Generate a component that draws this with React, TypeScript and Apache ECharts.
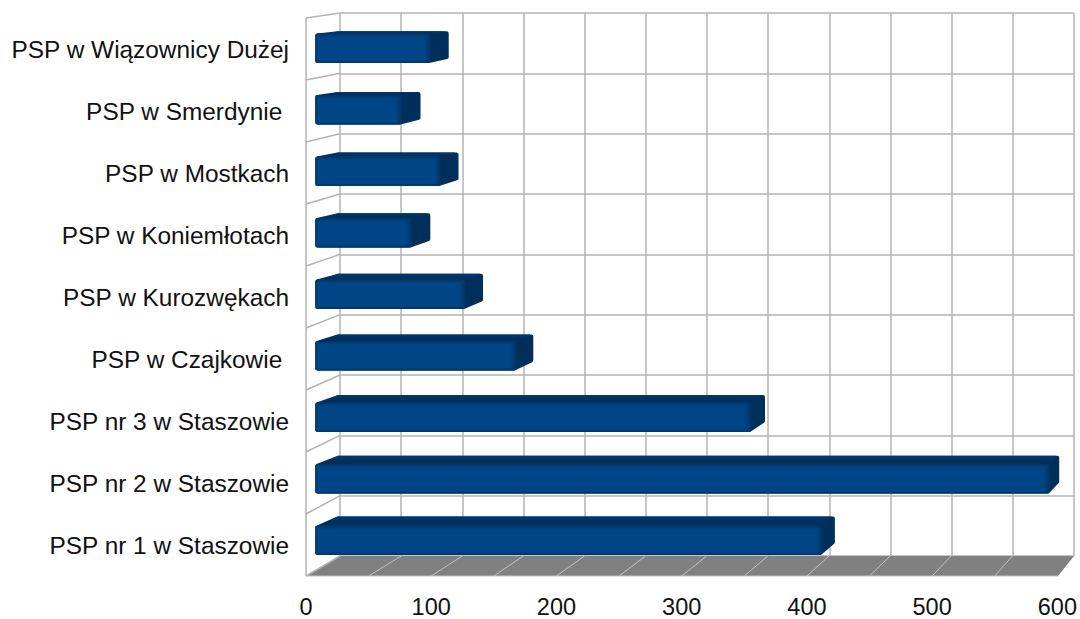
import React, { useEffect, useRef } from "react";
import * as echarts from "echarts";

const categories = [
  "PSP w Wiązownicy Dużej",
  "PSP w Smerdynie\u00a0",
  "PSP w Mostkach",
  "PSP w Koniemłotach",
  "PSP w Kurozwękach",
  "PSP w Czajkowie\u00a0",
  "PSP nr 3 w Staszowie",
  "PSP nr 2 w Staszowie",
  "PSP nr 1 w Staszowie",
];
const values = [92, 69, 100, 77, 120, 161, 350, 590, 407];
const floorTicks = [0, 50, 100, 150, 200, 250, 300, 350, 400, 450, 500, 550, 600];
const wallRows = [0, 1, 2, 3, 4, 5, 6, 7, 8, 9];

const FRONT = { left: 306, top: 18, width: 752, height: 558 };
const BACK = { left: 340, top: 13, width: 734, height: 543 };
const LABELS = { left: 306, top: 18.8, width: 752, height: 558 };
const GRID_LINE = "#b3b3b3";
const FONT = "Liberation Sans";

const toBackX = (x: number) => BACK.left + ((x - FRONT.left) / FRONT.width) * BACK.width;
const toBackY = (y: number) => BACK.top + ((y - FRONT.top) / FRONT.height) * BACK.height;
const lerp = (a: number, b: number, t: number) => a + (b - a) * t;

const renderFloor = (_: any, api: any) => {
  const v = api.value(0);
  const p = api.coord([v, 0]);
  const fx = p[0];
  const fy = FRONT.top + FRONT.height;
  const children: any[] = [];
  if (v === 0) {
    children.push({
      type: "polygon",
      shape: {
        points: [
          [FRONT.left, fy],
          [BACK.left, BACK.top + BACK.height],
          [BACK.left + BACK.width, BACK.top + BACK.height],
          [FRONT.left + FRONT.width, fy],
        ],
      },
      style: { fill: "#808080" },
    });
    children.push({
      type: "line",
      shape: { x1: FRONT.left, y1: fy, x2: FRONT.left + FRONT.width, y2: fy },
      style: { stroke: "#c4c4c4", lineWidth: 1 },
    });
    children.push({
      type: "line",
      shape: { x1: FRONT.left, y1: FRONT.top, x2: FRONT.left, y2: fy },
      style: { stroke: GRID_LINE, lineWidth: 1.5 },
    });
  }
  children.push({
    type: "line",
    shape: { x1: fx, y1: fy, x2: toBackX(fx), y2: BACK.top + BACK.height },
    style: { stroke: v === 0 || v === 600 ? "rgba(0,0,0,0)" : "#c4c4c4", lineWidth: 1 },
  });
  return { type: "group", children };
};

const renderWallRow = (_: any, api: any) => {
  const r = api.value(0);
  const y = FRONT.top + (r / categories.length) * FRONT.height;
  return {
    type: "line",
    shape: { x1: FRONT.left, y1: y, x2: BACK.left, y2: toBackY(y) },
    style: { stroke: GRID_LINE, lineWidth: 1.5 },
  };
};

const renderBar = (_: any, api: any) => {
  const v = api.value(0);
  const i = api.value(1);
  const p0 = api.coord([0, i]);
  const p1 = api.coord([v, i]);
  const band = api.size([0, 1])[1];
  const DXF = 0.3;
  const DXB = 0.88;
  const DYF = 0.1;
  const DYB = 0.62;
  const cyF = lerp(p1[1], toBackY(p1[1]), DYF);
  const cyB = lerp(p1[1], toBackY(p1[1]), DYB);
  const hF = band * 0.24;
  const hB = band * 0.226;
  const xF0 = lerp(p0[0], toBackX(p0[0]), DXF) - 1;
  const xF1 = lerp(p1[0], toBackX(p1[0]), DXF);
  const xB0 = lerp(p0[0], toBackX(p0[0]), DXB) + 2;
  const xB1 = lerp(p1[0], toBackX(p1[0]), DXB);
  const w = xF1 - xF0;
  const pad = 2;
  const edge = 1 - 6 / w;
  return {
    type: "group",
    children: [
      {
        type: "polygon",
        shape: {
          points: [
            [xF0 + pad, cyF - hF + pad],
            [xB0, cyB - hB + pad],
            [xB1 - pad, cyB - hB + pad],
            [xB1 - pad, cyB + hB - pad],
            [xF1 - pad, cyF + hF - pad],
            [xF0 + pad, cyF + hF - pad],
          ],
        },
        style: { fill: "#002f5c", stroke: "#002f5c", lineWidth: pad * 2, lineJoin: "round" },
      },
      {
        type: "polygon",
        shape: {
          points: [
            [xF0 + pad, cyF - hF + 2],
            [xB0, cyB - hB],
            [xB1 - pad - 1, cyB - hB],
            [xF1, cyF - hF + 2],
          ],
        },
        style: {
          fill: new echarts.graphic.LinearGradient(0, 0, 0, 1, [
            { offset: 0, color: "#003a70" },
            { offset: 0.5, color: "#002f5c" },
            { offset: 1, color: "#00305e" },
          ]),
        },
      },
      {
        type: "rect",
        shape: { x: xF0, y: cyF - hF, width: w, height: hF * 2, r: 3 },
        style: {
          fill: new echarts.graphic.LinearGradient(0, 0, 1, 0, [
            { offset: 0, color: "#003a72" },
            { offset: 3 / w, color: "#004586" },
            { offset: edge, color: "#004586" },
            { offset: 1, color: "#003263" },
          ]),
        },
      },
      {
        type: "rect",
        shape: { x: xF0 + 2, y: cyF - hF, width: w - 4, height: 5 },
        style: {
          fill: new echarts.graphic.LinearGradient(0, 0, 0, 1, [
            { offset: 0, color: "rgba(0,47,92,0.9)" },
            { offset: 1, color: "rgba(0,69,134,0)" },
          ]),
        },
      },
      {
        type: "rect",
        shape: { x: xF0 + 2, y: cyF + hF - 3, width: w - 4, height: 3 },
        style: {
          fill: new echarts.graphic.LinearGradient(0, 0, 0, 1, [
            { offset: 0, color: "rgba(0,47,92,0)" },
            { offset: 1, color: "rgba(0,47,92,0.8)" },
          ]),
        },
      },
    ],
  };
};

export default function App() {
  const ref = useRef<HTMLDivElement>(null);
  useEffect(() => {
    const chart = echarts.init(ref.current!, undefined, { renderer: "svg" });
    chart.setOption({
      animation: false,
      backgroundColor: "#ffffff",
      textStyle: { fontFamily: FONT },
      grid: [
        { ...FRONT, containLabel: false },
        { ...BACK, containLabel: false },
        { ...LABELS, containLabel: false },
      ],
      xAxis: [
        {
          type: "value",
          gridIndex: 0,
          min: 0,
          max: 600,
          interval: 100,
          axisLine: { show: false },
          axisTick: { show: false },
          splitLine: { show: false },
          axisLabel: { color: "#111111", fontFamily: FONT, fontSize: 23.5, margin: 22 },
        },
        {
          type: "value",
          gridIndex: 1,
          min: 0,
          max: 600,
          interval: 50,
          axisLine: { show: false },
          axisTick: { show: false },
          axisLabel: { show: false },
          splitLine: { show: true, lineStyle: { color: GRID_LINE, width: 1.5 } },
        },
        {
          type: "value",
          gridIndex: 2,
          min: 0,
          max: 600,
          interval: 100,
          show: false,
        },
      ],
      yAxis: [
        {
          type: "category",
          gridIndex: 0,
          inverse: true,
          data: categories,
          axisLine: { show: false },
          axisTick: { show: false },
          splitLine: { show: false },
          axisLabel: { show: false },
        },
        {
          type: "category",
          gridIndex: 1,
          inverse: true,
          data: categories,
          axisLine: { show: false },
          axisTick: { show: false },
          axisLabel: { show: false },
          splitLine: { show: true, interval: 0, lineStyle: { color: GRID_LINE, width: 1.5 } },
        },
        {
          type: "category",
          gridIndex: 2,
          inverse: true,
          data: categories,
          axisLine: { show: false },
          axisTick: { show: false },
          splitLine: { show: false },
          axisLabel: {
            color: "#111111",
            fontFamily: FONT,
            fontSize: 24.4,
            margin: 17,
            interval: 0,
          },
        },
      ],
      series: [
        {
          type: "custom",
          xAxisIndex: 0,
          yAxisIndex: 0,
          z: 1,
          silent: true,
          clip: false,
          renderItem: renderFloor,
          encode: { x: 0 },
          data: floorTicks.map((t) => [t]),
        },
        {
          type: "custom",
          xAxisIndex: 0,
          yAxisIndex: 0,
          z: 1,
          silent: true,
          clip: false,
          renderItem: renderWallRow,
          data: wallRows.map((r) => [r]),
          encode: { x: 0 },
        },
        {
          type: "custom",
          xAxisIndex: 0,
          yAxisIndex: 0,
          z: 3,
          clip: false,
          renderItem: renderBar,
          encode: { x: 0, y: 1 },
          data: values.map((v, i) => [v, i]),
        },
      ],
    });
    return () => chart.dispose();
  }, []);
  return (
    <div
      ref={ref}
      style={{ position: "absolute", left: 0, top: 0, width: 1080, height: 619 }}
    />
  );
}
